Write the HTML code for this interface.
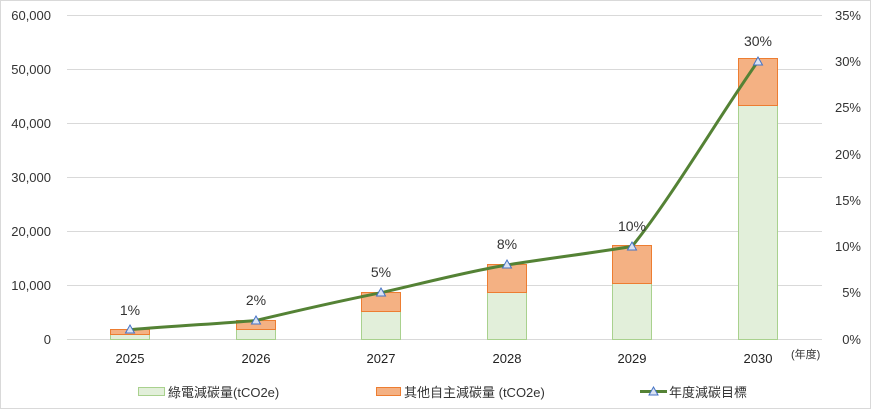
<!DOCTYPE html>
<html><head><meta charset="utf-8"><style>
body{margin:0;background:#fff;}
svg{display:block;font-family:"Liberation Sans","Noto Sans CJK TC",sans-serif;}
</style></head><body>
<svg width="871" height="409" viewBox="0 0 871 409">
<rect x="0.5" y="0.5" width="870" height="408" fill="#fff" stroke="#d9d9d9"/>
<g stroke="#d9d9d9" stroke-width="1">
<line x1="67" x2="822" y1="15.5" y2="15.5"/>
<line x1="67" x2="822" y1="69.5" y2="69.5"/>
<line x1="67" x2="822" y1="123.5" y2="123.5"/>
<line x1="67" x2="822" y1="177.5" y2="177.5"/>
<line x1="67" x2="822" y1="231.5" y2="231.5"/>
<line x1="67" x2="822" y1="285.5" y2="285.5"/>
<line x1="67" x2="822" y1="339.5" y2="339.5"/>
</g>
<g font-size="13" fill="#333" text-anchor="end">
<text x="51" y="20">60,000</text><text x="51" y="74">50,000</text><text x="51" y="128">40,000</text>
<text x="51" y="182">30,000</text><text x="51" y="236">20,000</text><text x="51" y="290">10,000</text><text x="51" y="344">0</text>
</g>
<g font-size="13" fill="#333" text-anchor="end">
<text x="861" y="20">35%</text><text x="861" y="66">30%</text><text x="861" y="112">25%</text><text x="861" y="159">20%</text>
<text x="861" y="205">15%</text><text x="861" y="251">10%</text><text x="861" y="297">5%</text><text x="861" y="344">0%</text>
</g>
<g fill="#e2efda" stroke="#a9d18e">
<rect x="110.5" y="334.5" width="39" height="5"/>
<rect x="236.5" y="329.5" width="39" height="10"/>
<rect x="361.5" y="311.5" width="39" height="28"/>
<rect x="487.5" y="292.5" width="39" height="47"/>
<rect x="612.5" y="283.5" width="39" height="56"/>
<rect x="738.5" y="105.5" width="39" height="234"/>
</g>
<g fill="#f4b183" stroke="#ed7d31">
<rect x="110.5" y="329.5" width="39" height="5"/>
<rect x="236.5" y="320.5" width="39" height="9"/>
<rect x="361.5" y="292.5" width="39" height="19"/>
<rect x="487.5" y="264.5" width="39" height="28"/>
<rect x="612.5" y="245.5" width="39" height="38"/>
<rect x="738.5" y="58.5" width="39" height="47"/>
</g>
<path d="M130 329.7 C175 326 220 323.5 256 320.5 C300 310 340 301 381 292.7 C420 284 465 272 507 265 C550 258 600 252 632 246.4 C670 200 720 115 758 61.3" fill="none" stroke="#548235" stroke-width="3"/>
<g fill="#dae3f3" stroke="#4472c4" stroke-width="1">
<path d="M130 325 L134.5 333 L125.5 333Z"/><path d="M256 316 L260.5 324 L251.5 324Z"/>
<path d="M381 288 L385.5 296 L376.5 296Z"/><path d="M507 260 L511.5 268 L502.5 268Z"/>
<path d="M632 242 L636.5 250 L627.5 250Z"/><path d="M758 57 L762.5 65 L753.5 65Z"/>
</g>
<g font-size="14" fill="#333" text-anchor="middle">
<text x="130" y="315">1%</text><text x="256" y="305">2%</text><text x="381" y="277">5%</text>
<text x="507" y="249">8%</text><text x="632" y="231">10%</text><text x="758" y="46">30%</text>
</g>
<g font-size="13" fill="#222" text-anchor="middle">
<text x="130" y="363">2025</text><text x="256" y="363">2026</text><text x="381" y="363">2027</text>
<text x="507" y="363">2028</text><text x="632" y="363">2029</text><text x="758" y="363">2030</text>
</g>
<text x="791" y="358" font-size="11" fill="#333">(年度)</text>
<rect x="138.5" y="387.5" width="26" height="8" fill="#e2efda" stroke="#a9d18e"/>
<text x="168" y="397" font-size="13" fill="#333">綠電減碳量(tCO2e)</text>
<rect x="376.5" y="387.5" width="24" height="8" fill="#f4b183" stroke="#ed7d31"/>
<text x="404" y="397" font-size="13" fill="#333">其他自主減碳量 (tCO2e)</text>
<line x1="640" x2="667" y1="391.5" y2="391.5" stroke="#548235" stroke-width="3"/>
<path d="M653.5 387 L658 395 L649 395Z" fill="#dae3f3" stroke="#4472c4"/>
<text x="669" y="397" font-size="13" fill="#333">年度減碳目標</text>
</svg>
</body></html>
